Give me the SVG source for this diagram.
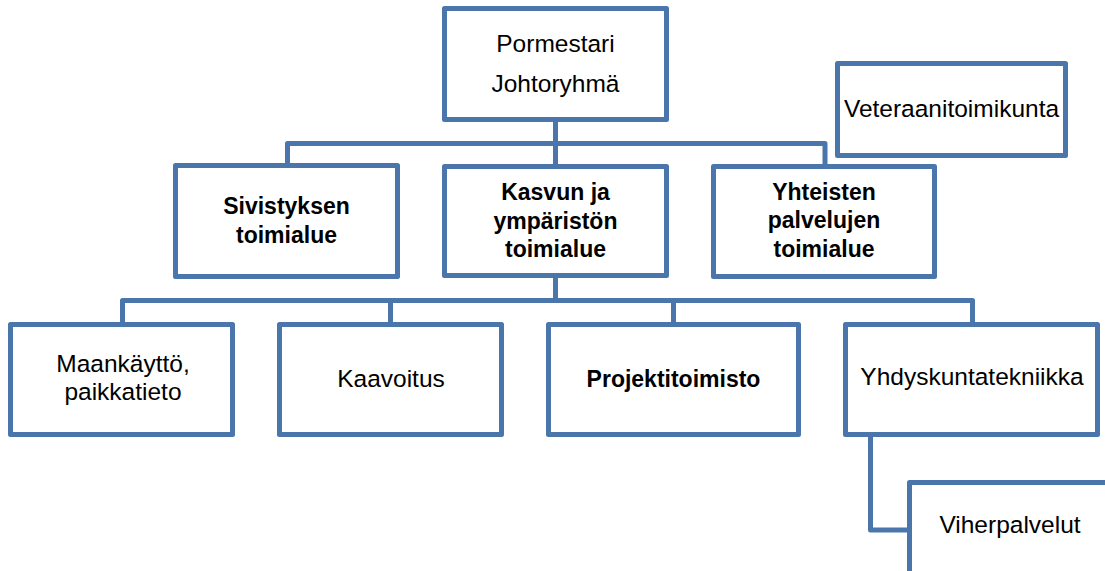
<svg xmlns="http://www.w3.org/2000/svg" width="1105" height="571" viewBox="0 0 1105 571">
<style>
.box{fill:#fff;stroke:#4a76ab;stroke-width:5;stroke-linejoin:round}
.con{fill:none;stroke:#4a76ab;stroke-width:5;stroke-linejoin:round}
text{font-family:"Liberation Sans",Arial,sans-serif;font-size:24.5px;fill:#000;text-anchor:middle}
.b{font-weight:bold;font-size:23px}
</style>
<rect width="1105" height="571" fill="#fff"/>
<g id="connectors">
<path class="con" d="M555.5 119V143.5M287.5 166V143.5H825V166M555.5 143.5V166"/>
<path class="con" d="M555.5 276V300.5M122.5 324V300.5H972.5V324M390.5 300.5V324M673.5 300.5V324"/>
<path class="con" d="M870.5 435V530H909.5"/>
</g>
<g id="pormestari">
<rect class="box" x="444.5" y="8.5" width="222" height="111"/>
<text x="555.5" y="52">Pormestari</text>
<text x="555.5" y="92">Johtoryhmä</text>
</g>
<g id="veteraani">
<rect class="box" x="837.5" y="63.5" width="228" height="92"/>
<text x="951.5" y="117">Veteraanitoimikunta</text>
</g>
<g id="sivistys">
<rect class="box" x="175.5" y="165.5" width="222" height="111"/>
<text class="b" x="286.5" y="214">Sivistyksen</text>
<text class="b" x="286.5" y="243">toimialue</text>
</g>
<g id="kasvu">
<rect class="box" x="444.5" y="166.5" width="222" height="109"/>
<text class="b" x="555.5" y="200">Kasvun ja</text>
<text class="b" x="555.5" y="229">ympäristön</text>
<text class="b" x="555.5" y="257">toimialue</text>
</g>
<g id="yhteiset">
<rect class="box" x="713.5" y="166.5" width="221" height="110"/>
<text class="b" x="824" y="200">Yhteisten</text>
<text class="b" x="824" y="228">palvelujen</text>
<text class="b" x="824" y="257">toimialue</text>
</g>
<g id="maankaytto">
<rect class="box" x="10.5" y="324.5" width="222" height="110"/>
<text x="123" y="372">Maankäyttö,</text>
<text x="123" y="400">paikkatieto</text>
</g>
<g id="kaavoitus">
<rect class="box" x="279.5" y="324.5" width="222" height="110"/>
<text x="391" y="387">Kaavoitus</text>
</g>
<g id="projekti">
<rect class="box" x="548.5" y="324.5" width="250" height="110"/>
<text class="b" x="673.5" y="387">Projektitoimisto</text>
</g>
<g id="yhdyskunta">
<rect class="box" x="845.5" y="324.5" width="252" height="110"/>
<text x="972" y="385">Yhdyskuntatekniikka</text>
</g>
<g id="viher">
<rect class="box" x="909.5" y="482.5" width="220" height="120"/>
<text x="1010" y="533">Viherpalvelut</text>
</g>
</svg>
